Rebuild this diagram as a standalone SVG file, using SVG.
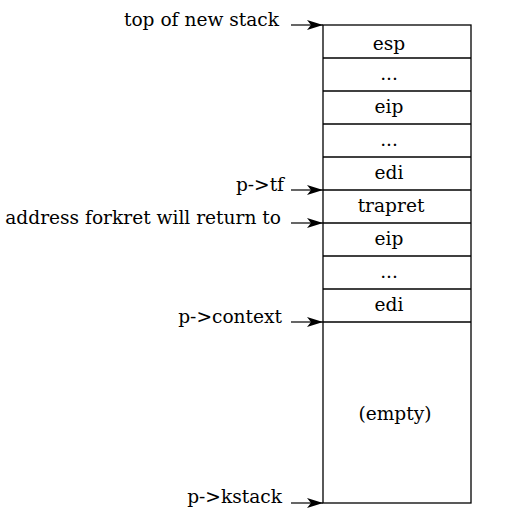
<svg xmlns="http://www.w3.org/2000/svg" width="517" height="517" viewBox="0 0 517 517">
<style>
text{font-family:"DejaVu Serif","Liberation Serif",serif;font-size:18.6px;fill:#000}
.c{text-anchor:middle}
.l{text-anchor:end}
.b{fill:none;stroke:#000;stroke-width:1.3}
.a{stroke:#000;stroke-width:1.2;fill:none}
</style>
<defs>
<marker id="ah" viewBox="0 0 16 10" refX="16" refY="5" markerWidth="16" markerHeight="10" markerUnits="userSpaceOnUse" orient="auto">
<path d="M0,0 L16,5 L0,10 L4,5 Z" fill="#000"/>
</marker>
</defs>
<g id="stack">
<rect class="b" x="323" y="25" width="148" height="478"/>
<g class="b">
<line x1="323" y1="58" x2="471" y2="58"/>
<line x1="323" y1="91" x2="471" y2="91"/>
<line x1="323" y1="124" x2="471" y2="124"/>
<line x1="323" y1="157" x2="471" y2="157"/>
<line x1="323" y1="190" x2="471" y2="190"/>
<line x1="323" y1="223" x2="471" y2="223"/>
<line x1="323" y1="256" x2="471" y2="256"/>
<line x1="323" y1="289" x2="471" y2="289"/>
<line x1="323" y1="322" x2="471" y2="322"/>
</g>
</g>
<g id="cell-esp"><text class="c" x="389" y="50">esp</text></g>
<g id="cell-dots1"><text class="c" x="389" y="80">...</text></g>
<g id="cell-eip1"><text class="c" x="389" y="113">eip</text></g>
<g id="cell-dots2"><text class="c" x="389" y="146">...</text></g>
<g id="cell-edi1"><text class="c" x="389" y="179">edi</text></g>
<g id="cell-trapret"><text class="c" x="391" y="212">trapret</text></g>
<g id="cell-eip2"><text class="c" x="389" y="245">eip</text></g>
<g id="cell-dots3"><text class="c" x="389" y="278">...</text></g>
<g id="cell-edi2"><text class="c" x="389" y="311">edi</text></g>
<g id="cell-empty"><text class="c" x="395" y="420">(empty)</text></g>
<g id="label-top"><text class="l" x="279" y="26">top of new stack</text></g>
<g id="label-tf"><text class="l" x="284" y="191">p-&gt;tf</text></g>
<g id="label-forkret"><text class="l" x="281" y="224">address forkret will return to</text></g>
<g id="label-context"><text class="l" x="282" y="323">p-&gt;context</text></g>
<g id="label-kstack"><text class="l" x="282" y="503">p-&gt;kstack</text></g>
<g id="connectors">
<line class="a" x1="291" y1="25" x2="323" y2="25" marker-end="url(#ah)"/>
<line class="a" x1="291" y1="190" x2="323" y2="190" marker-end="url(#ah)"/>
<line class="a" x1="291" y1="223" x2="323" y2="223" marker-end="url(#ah)"/>
<line class="a" x1="291" y1="322" x2="323" y2="322" marker-end="url(#ah)"/>
<line class="a" x1="291" y1="503" x2="323" y2="503" marker-end="url(#ah)"/>
</g>
</svg>
